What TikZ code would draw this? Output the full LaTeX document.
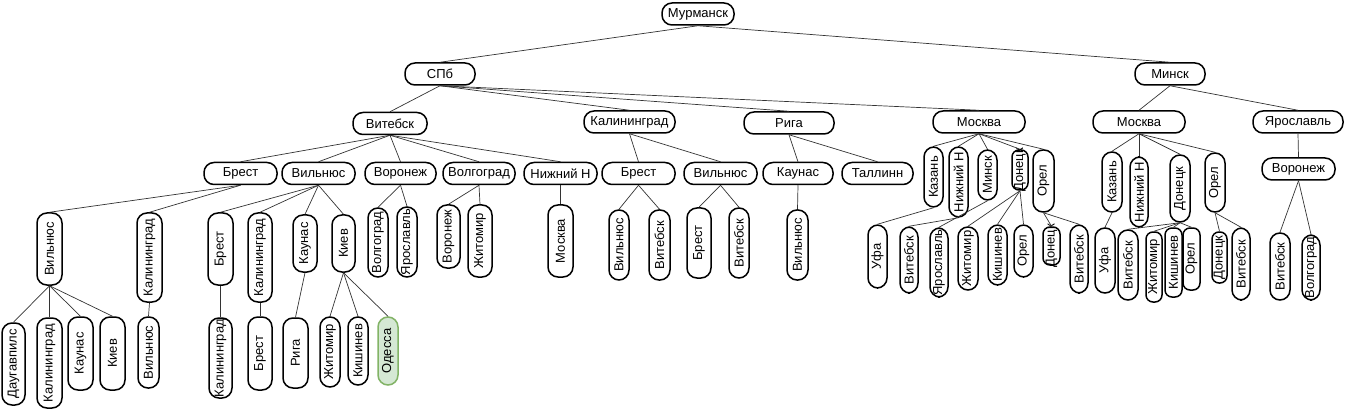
\documentclass[tikz,border=0pt]{standalone}
\usepackage{fontspec}
\setmainfont{Liberation Sans}
\usepackage{graphicx}
\definecolor{odfill}{HTML}{D5E8D4}
\definecolor{odline}{HTML}{82B366}
\newcommand{\up}[1]{\rotatebox{90}{\makebox[0pt]{#1}}}
\tikzset{
  town/.style={draw, fill=white, line width=1.5pt, rounded corners=10pt, inner sep=0pt,
    minimum height=22pt, font=\fontsize{13}{15}\selectfont},
  thin town/.style={town, rounded corners=7pt},
  goal/.style={fill=odfill, draw=odline},
  link/.style={line width=0.7pt, draw=black!80},
}
\begin{document}
\begin{tikzpicture}[x=1pt,y=-1pt]
\useasboundingbox (0,0) rectangle (1345,409);
% levels 0-2
\node[town, minimum width=72] (mur) at (698,14) {Мурманск};
\node[town, minimum width=70] (spb) at (440,74) {СПб};
\node[town, minimum width=70] (minsk) at (1170,74) {Минск};
\node[town, minimum width=74] (vit) at (390,123.5) {Витебск};
\node[town, minimum width=91] (kal) at (629.5,122) {Калининград};
\node[town, minimum width=90] (riga) at (789,123) {Рига};
\node[town, minimum width=92] (msk1) at (979,122) {Москва};
\node[town, minimum width=92] (msk2) at (1139,122) {Москва};
\node[town, minimum width=90] (yar) at (1298,122) {Ярославль};
\node[town, minimum width=73] (br1) at (240.5,173.5) {Брест};
\node[town, minimum width=73] (vil1) at (318.5,173.5) {Вильнюс};
\node[town, minimum width=71] (vor1) at (400.5,173.5) {Воронеж};
\node[town, minimum width=72] (vol1) at (479,173.5) {Волгоград};
\node[town, minimum width=73] (nn1) at (560.5,173.5) {Нижний Н};
\node[town, minimum width=73] (br2) at (638.5,173.5) {Брест};
\node[town, minimum width=73] (vil2) at (720.5,173.5) {Вильнюс};
\node[town, minimum width=70] (kau1) at (798,173.5) {Каунас};
\node[town, minimum width=71] (tal) at (877.5,173.5) {Таллинн};
\node[town, minimum width=73] (vor2) at (1298.5,169) {Воронеж};
% level 3
\node[town, minimum width=25, minimum height=72] (vil3) at (49.5,249) {\up{Вильнюс}};
\node[town, minimum width=25, minimum height=89] (kal3) at (149.5,257.5) {\up{Калининград}};
\node[town, minimum width=25, minimum height=72] (br3) at (220.5,249) {\up{Брест}};
\node[town, minimum width=24, minimum height=89] (kal4) at (260,257.5) {\up{Калининград}};
\node[town, minimum width=24, minimum height=57] (kau3) at (305,243.5) {\up{Каунас}};
\node[town, minimum width=23, minimum height=57] (kie3) at (343.5,243.5) {\up{Киев}};
\node[town, minimum width=20, minimum height=69] (vol3) at (378,242.5) {\up{Волгоград}};
\node[town, minimum width=20, minimum height=70] (yar3) at (407,242) {\up{Ярославль}};
\node[town, minimum width=23, minimum height=63] (vor3) at (448.5,236.5) {\up{Воронеж}};
\node[town, minimum width=24, minimum height=72] (zhi3) at (480,241) {\up{Житомир}};
\node[town, minimum width=25, minimum height=72] (msk3) at (560.5,241) {\up{Москва}};
\node[town, minimum width=20, minimum height=70] (vil4) at (619,245) {\up{Вильнюс}};
\node[town, minimum width=21, minimum height=70] (vit4) at (659.5,245) {\up{Витебск}};
\node[town, minimum width=24, minimum height=70] (br4) at (699,243) {\up{Брест}};
\node[town, minimum width=20, minimum height=70] (vit5) at (739,243) {\up{Витебск}};
\node[town, minimum width=21, minimum height=70] (vil5) at (797.5,245) {\up{Вильнюс}};
\node[town, minimum width=19, minimum height=60] (kaz1) at (933.5,177) {\up{Казань}};
\node[town, minimum width=19, minimum height=70] (nn2) at (958.5,182) {\up{Нижний Н}};
\node[town, minimum width=19, minimum height=50] (min2) at (987.5,175) {\up{Минск}};
\node[thin town, minimum width=16, minimum height=40] (don1) at (1020,170) {\up{Донецк}};
\node[town, minimum width=21, minimum height=62] (ore1) at (1043.5,181) {\up{Орел}};
\node[town, minimum width=20, minimum height=60] (kaz2) at (1112,182) {\up{Казань}};
\node[town, minimum width=18, minimum height=70] (nn3) at (1139,192) {\up{Нижний Н}};
\node[town, minimum width=20, minimum height=67] (don2) at (1180,188.5) {\up{Донецк}};
\node[town, minimum width=20, minimum height=59] (ore2) at (1215,182.5) {\up{Орел}};
% level 4
\node[town, minimum width=19, minimum height=63] (ufa1) at (877.5,256.5) {\up{Уфа}};
\node[town, minimum width=18, minimum height=66] (vit6) at (909,260) {\up{Витебск}};
\node[town, minimum width=18, minimum height=69] (yar4) at (939,262.5) {\up{Ярославль}};
\node[town, minimum width=20, minimum height=63] (zhi4) at (968,258.5) {\up{Житомир}};
\node[town, minimum width=19, minimum height=60] (kis4) at (997.5,255) {\up{Кишинев}};
\node[town, minimum width=19, minimum height=52] (ore4) at (1023.5,251) {\up{Орел}};
\node[thin town, minimum width=17, minimum height=38] (don4) at (1051.5,246) {\up{Донецк}};
\node[town, minimum width=18, minimum height=68] (vit7) at (1079,259) {\up{Витебск}};
\node[town, minimum width=20, minimum height=65] (ufa2) at (1105,260.5) {\up{Уфа}};
\node[town, minimum width=20, minimum height=70] (vit8) at (1128,265) {\up{Витебск}};
\node[thin town, minimum width=16, minimum height=70] (zhi5) at (1154,267) {\up{Житомир}};
\node[thin town, minimum width=17, minimum height=69] (kis5) at (1173.5,262.5) {\up{Кишинев}};
\node[thin town, minimum width=17, minimum height=62] (ore5) at (1191.5,259) {\up{Орел}};
\node[thin town, minimum width=15, minimum height=51] (don5) at (1219.5,257.5) {\up{Донецк}};
\node[town, minimum width=18, minimum height=72] (vit9) at (1241,264) {\up{Витебск}};
\node[town, minimum width=20, minimum height=67] (vit10) at (1280,266.5) {\up{Витебск}};
\node[town, minimum width=18, minimum height=65] (vol5) at (1311,267.5) {\up{Волгоград}};
% level 5
\node[town, minimum width=23, minimum height=82] (dau) at (13.5,364) {\up{Даугавпилс}};
\node[town, minimum width=25, minimum height=90] (kal5) at (49.5,363) {\up{Калининград}};
\node[town, minimum width=25, minimum height=73] (kau5) at (80.5,353.5) {\up{Каунас}};
\node[town, minimum width=25, minimum height=73] (kie5) at (112.5,353.5) {\up{Киев}};
\node[town, minimum width=21, minimum height=71] (vil6) at (148.5,352.5) {\up{Вильнюс}};
\node[town, minimum width=23, minimum height=80] (kal6) at (220.5,358) {\up{Калининград}};
\node[town, minimum width=24, minimum height=73] (br6) at (260,353.5) {\up{Брест}};
\node[town, minimum width=25, minimum height=70] (riga6) at (295.5,353) {\up{Рига}};
\node[town, minimum width=20, minimum height=70] (zhi6) at (330,352) {\up{Житомир}};
\node[town, minimum width=20, minimum height=68] (kis6) at (358,351) {\up{Кишинев}};
\node[town, goal, minimum width=20, minimum height=68] (ode6) at (388,351) {\up{Одесса}};
% links
\foreach \a/\b in {mur/spb, mur/minsk, spb/vit, spb/kal, spb/riga, spb/msk1,
    minsk/msk2, minsk/yar, vit/br1, vit/vil1, vit/vor1, vit/vol1, vit/nn1,
    kal/br2, kal/vil2, riga/kau1, riga/tal,
    msk1/kaz1, msk1/nn2, msk1/min2, msk1/don1, msk1/ore1,
    msk2/kaz2, msk2/nn3, msk2/don2, msk2/ore2, yar/vor2,
    br1/vil3, br1/kal3, vil1/br3, vil1/kal4, vil1/kau3, vil1/kie3,
    vor1/vol3, vor1/yar3, vol1/vor3, vol1/zhi3, nn1/msk3,
    br2/vil4, br2/vit4, vil2/br4, vil2/vit5, kau1/vil5,
    kaz1/ufa1, nn2/vit6, min2/yar4, don1/zhi4, don1/kis4, don1/ore4, ore1/don4, ore1/vit7,
    kaz2/ufa2, don2/vit8, don2/zhi5, don2/kis5, don2/ore5, ore2/don5, ore2/vit9,
    vor2/vit10, vor2/vol5,
    vil3/dau, vil3/kal5, vil3/kau5, vil3/kie5, kal3/vil6, br3/kal6, kal4/br6,
    kau3/riga6, kie3/zhi6, kie3/kis6, kie3/ode6}
  \draw[link] (\a.south) -- (\b.north);
\end{tikzpicture}
\end{document}
